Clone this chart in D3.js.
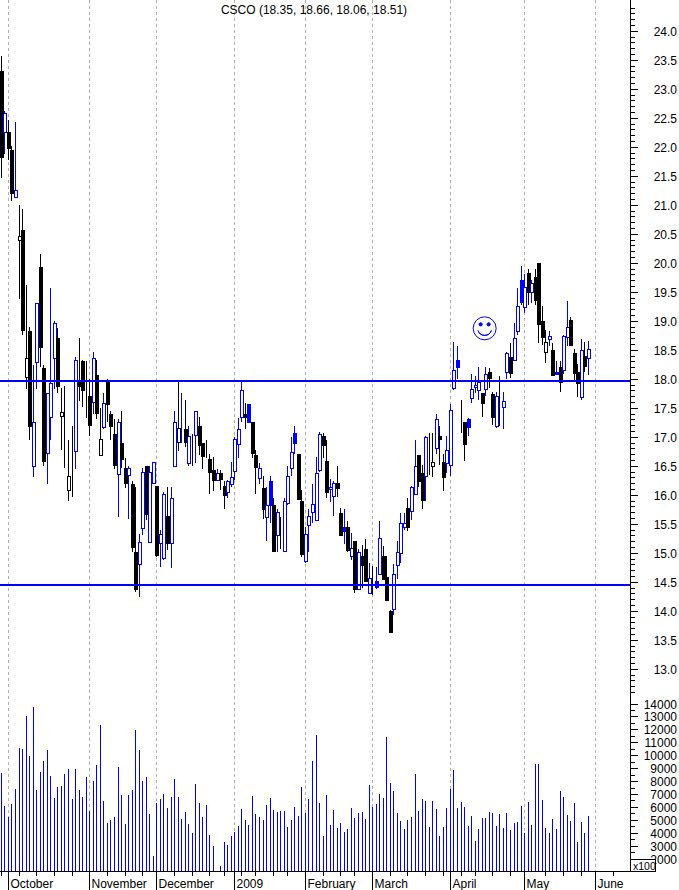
<!DOCTYPE html>
<html><head><meta charset="utf-8">
<script src="https://cdn.jsdelivr.net/npm/d3@7/dist/d3.min.js"></script>
<style>html,body{margin:0;padding:0;background:#fff}svg{display:block}text{font-family:"Liberation Sans",Arial,sans-serif;fill:#000}</style>
</head><body><div id="chart"></div>
<script>
const titleText = "CSCO (18.35, 18.66, 18.06, 18.51)";
const highs = [
23.56,22.61,22.47,22.01,22.42,20.99,20.92,19.61,18.90,18.23,
19.30,20.16,18.23,17.76,19.56,19.00,18.88,17.85,17.88,16.94,
17.19,18.37,18.70,18.33,18.30,17.99,18.47,18.32,17.49,17.75,
17.99,17.44,17.30,17.31,17.44,16.64,16.49,16.23,16.14,15.32,
16.47,16.49,16.49,16.56,16.16,15.40,16.04,16.13,16.13,17.45,
17.94,17.76,17.63,17.19,17.04,17.45,17.35,16.89,16.95,16.71,
16.66,16.44,16.42,16.23,16.26,16.56,16.99,17.32,17.97,17.59,
17.57,17.25,16.78,16.54,16.32,16.13,16.32,15.94,15.76,15.61,
15.94,16.49,16.99,17.19,16.71,16.09,15.45,15.76,16.18,16.66,
17.09,17.06,16.94,16.28,16.23,16.49,15.78,15.75,15.54,15.35,
15.21,15.06,15.14,15.23,14.83,14.78,14.75,15.54,15.11,14.94,
14.02,14.80,15.21,15.69,15.69,15.95,16.16,16.95,16.68,16.52,
17.01,17.06,17.06,17.40,17.18,16.70,17.02,17.56,18.63,18.56,
17.64,17.26,17.33,18.09,18.04,18.20,17.76,18.20,18.18,17.78,
17.78,18.04,17.78,18.47,18.61,18.97,19.56,19.94,19.80,19.89,
19.71,19.89,20.00,19.25,18.85,18.83,18.61,18.30,18.30,18.76,
19.35,19.06,18.52,18.25,18.68,18.63,18.66];
const lows = [
21.47,21.87,21.78,21.06,21.14,19.37,18.76,17.82,16.95,16.30,
17.82,18.20,16.50,16.19,16.94,17.83,17.76,16.78,16.47,15.90,
15.97,16.45,17.61,17.51,17.33,17.01,17.39,17.30,16.68,17.14,
17.26,16.95,16.44,15.61,16.47,16.11,15.59,15.01,14.33,14.23,
15.30,15.57,15.18,16.18,14.92,14.76,14.88,15.04,14.73,16.49,
16.76,16.89,16.83,16.50,16.50,16.54,16.68,16.44,16.64,16.01,
16.06,16.23,16.09,15.75,15.94,16.14,16.25,16.64,17.26,17.13,
17.25,16.63,16.02,16.18,15.59,15.20,15.51,15.02,15.02,15.06,
15.01,15.83,16.32,16.70,15.92,14.92,14.83,15.02,15.52,15.54,
16.40,16.64,15.94,15.87,15.64,15.97,15.30,15.16,15.02,14.88,
14.31,14.38,14.40,14.49,14.30,14.28,14.37,14.63,14.54,14.20,
13.63,13.92,14.54,14.83,15.40,15.37,15.57,16.02,16.14,15.75,
15.90,16.35,16.30,16.70,16.52,16.07,16.37,16.32,17.80,17.99,
17.07,16.59,17.01,17.59,17.76,17.63,17.35,17.70,17.85,17.21,
17.16,17.18,17.14,17.99,18.02,18.30,18.75,19.28,19.14,19.28,
19.30,19.28,18.61,18.59,18.28,18.56,18.04,18.06,17.78,18.09,
18.56,18.57,17.95,17.68,17.63,18.12,18.06];
const opens = [
23.30,22.26,22.25,21.95,21.14,20.39,20.57,18.02,18.83,16.49,
18.28,19.92,18.18,16.73,17.33,18.37,18.70,17.35,17.25,16.09,
16.11,16.76,17.95,18.30,17.80,17.71,17.59,18.06,16.70,17.18,
17.95,17.39,17.04,16.37,16.90,16.47,16.35,16.18,15.01,14.80,
15.44,16.49,15.20,16.19,16.16,15.18,14.92,15.64,15.18,16.50,
16.92,17.32,17.14,16.54,16.87,17.02,17.18,16.89,16.66,16.61,
16.42,16.25,16.37,16.16,16.04,16.18,16.42,16.87,17.33,17.39,
17.56,17.25,16.68,16.30,16.11,15.63,16.23,15.82,15.32,15.40,
15.04,15.85,16.45,17.07,16.71,15.90,14.85,15.49,15.71,15.56,
16.42,17.01,16.59,16.09,15.99,16.20,15.68,15.45,15.45,14.95,
15.21,14.38,14.94,15.06,14.31,14.33,14.51,14.64,14.95,14.59,
14.00,14.04,14.80,15.01,15.45,15.78,15.73,16.02,16.68,16.37,
16.32,16.70,16.50,16.81,17.01,16.57,16.56,16.52,17.85,18.32,
17.56,17.25,17.30,17.68,17.87,17.80,17.76,17.83,18.11,17.73,
17.19,17.47,17.51,18.11,18.38,18.32,18.83,19.70,19.25,19.83,
19.50,19.76,20.00,19.00,18.45,18.68,18.49,18.11,18.21,18.14,
18.73,19.02,18.45,18.11,17.68,18.40,18.35];
const closes = [
21.82,22.59,21.97,21.21,21.26,20.46,18.84,18.35,17.19,17.25,
19.30,18.54,16.57,17.76,17.92,18.97,17.87,17.42,17.25,16.33,
16.11,18.33,17.88,17.80,17.80,17.21,18.35,17.40,16.97,17.59,
17.57,17.19,16.50,17.26,16.62,16.21,16.47,15.09,14.37,15.18,
16.40,15.66,16.40,16.56,14.97,15.33,16.02,15.18,15.95,17.26,
17.16,17.32,16.92,17.01,16.87,17.44,16.85,16.66,16.66,16.39,
16.25,16.37,16.26,16.01,16.23,16.30,16.97,17.13,17.80,17.33,
17.25,16.71,16.47,16.47,15.75,15.83,15.82,15.02,15.71,15.40,
15.90,16.32,16.73,16.89,15.94,14.99,15.32,15.64,15.85,16.37,
17.04,16.85,16.06,16.13,16.21,16.11,15.30,15.38,15.06,15.09,
14.38,15.01,14.78,14.51,14.57,14.33,14.40,15.26,14.56,14.20,
13.63,14.64,15.02,15.52,15.52,15.45,16.14,16.50,16.23,15.90,
16.99,16.70,16.57,17.31,16.95,16.32,16.78,17.47,18.16,18.20,
17.56,16.87,17.16,17.83,17.90,17.94,17.59,18.09,18.01,17.33,
17.70,17.47,17.61,18.44,18.11,18.70,19.26,19.32,19.59,19.50,
19.66,19.37,18.95,18.73,18.63,18.73,18.06,18.07,17.95,18.73,
18.90,18.59,18.11,17.92,18.49,18.23,18.51];
const blueDays = [1,4,9,10,13,14,15,21,26,29,33,36,39,40,42,43,45,46,48,49,51,53,55,61,64,65,66,67,68,70,73,75,76,78,80,81,82,83,86,87,88,89,90,93,94,97,99,101,104,106,107,111,112,113,114,116,117,120,123,126,127,128,129,132,133,134,135,137,140,142,143,145,146,147,148,150,155,157,159,160,164,166];
const volumes = [
8613,6063,5240,6218,7377,10545,10468,13018,9927,13714,
7300,8690,9540,10390,8381,6681,7531,7609,8536,8922,
6604,8922,7300,6759,8304,5676,7995,9231,12323,6450,
4749,4981,5213,9077,6913,4672,6913,7300,11936,10390,
7995,8304,5445,2199,6295,6604,6990,5908,6759,8150,
6759,5058,5599,4672,3976,7763,6295,5213,6140,3822,
2972,900,1426,3281,3049,3745,4054,4517,5831,4981,
4595,6836,5445,5213,4981,6140,6681,5754,5599,5676,
5676,4440,4981,5986,5290,7531,5522,6604,9540,11550,
6295,3745,6913,4595,5754,4363,4749,4054,4286,5908,
5136,5522,5599,5058,7686,5986,6218,6990,6681,11395,
7840,7222,5522,4904,4286,4981,5213,8536,5676,6604,
6450,4440,6450,5831,3745,4440,5908,7377,8845,5908,
6372,5986,4517,5290,3358,4286,5136,5136,5599,5522,
4517,5445,4363,5522,4209,4749,4827,6063,3976,6372,
4595,9309,9309,6527,4363,3976,5058,4286,7222,6759,
5368,4904,6295,3281,4827,3976,5290];
const monthLabels = ["October","November","December","2009","February","March","April","May","June"];
const monthDays = [2,25,44,66,86,105,127,148,168];
const weekDays = [0,5,10,15,20,30,35,40,49,54,59,63,68,72,77,81,91,96,100,110,115,120,125,130,134,139,144,154,159,164,173];
const priceMajor = [24,23.5,23,22.5,22,21.5,21,20.5,20,19.5,19,18.5,18,17.5,17,16.5,16,15.5,15,14.5,14,13.5,13];
const volumeMajor = [14000,13000,12000,11000,10000,9000,8000,7000,6000,5000,4000,3000,2000];
const levels = [17.96,14.44];
const smileyAt = {day:136.4, price:18.87};

const W=679,H=890, BLUE="#0000ff";
const svg=d3.select("#chart").append("svg").attr("width",W).attr("height",H).attr("viewBox",`0 0 ${W} ${H}`);
const x=d3.scaleLinear().domain([0,166]).range([1.33,588.33]);
const px=i=>Math.floor(x(i))+0.5;
const y=d3.scaleLinear().domain([24,13]).range([30.8,668.8]);
const yv=d3.scaleLinear().domain([1000,14000]).range([871.5,703.5]);
const axisX=630.5, baseY=871.5;

svg.append("g").selectAll("line").data(monthDays).join("line")
  .attr("x1",px).attr("x2",px).attr("y1",0).attr("y2",baseY)
  .attr("stroke","#b0b0b0").attr("stroke-dasharray","3,3").attr("shape-rendering","crispEdges");

svg.append("g").selectAll("line").data(volumes).join("line")
  .attr("x1",(d,i)=>px(i)).attr("x2",(d,i)=>px(i))
  .attr("y1",baseY).attr("y2",d=>d<1000?baseY:yv(d))
  .attr("stroke",BLUE).attr("stroke-width",1).attr("shape-rendering","crispEdges");

const candles=svg.append("g").selectAll("g").data(d3.range(highs.length)).join("g");
const col=i=>blueDays.includes(i)?BLUE:"#000";
candles.append("line").attr("x1",px).attr("x2",px).attr("y1",i=>y(highs[i])).attr("y2",i=>y(lows[i]))
  .attr("stroke",col).attr("shape-rendering","crispEdges");
candles.append("rect")
  .attr("x",i=>px(i)-1.5)
  .attr("width",3)
  .attr("y",i=>Math.round(y(Math.max(opens[i],closes[i])))+0.5)
  .attr("height",i=>Math.max(opens[i]===closes[i]?0:1,Math.round(Math.abs(y(opens[i])-y(closes[i])))))
  .attr("fill",i=>closes[i]>opens[i]?"#fff":col(i))
  .attr("stroke",col).attr("stroke-width",1).attr("shape-rendering","crispEdges");

svg.append("g").selectAll("line").data(levels).join("line")
  .attr("x1",0).attr("x2",axisX).attr("y1",y).attr("y2",y)
  .attr("stroke",BLUE).attr("stroke-width",2).attr("shape-rendering","crispEdges");

const ax=svg.append("g").attr("stroke","#000").attr("stroke-width",1).attr("shape-rendering","crispEdges");
ax.append("line").attr("x1",axisX).attr("x2",axisX).attr("y1",0).attr("y2",baseY);
ax.append("line").attr("x1",0).attr("x2",axisX).attr("y1",baseY).attr("y2",baseY);
const priceTicks=d3.range(126,245).map(d=>d/10);
ax.selectAll(".p").data(priceTicks).join("line").attr("class","p")
  .attr("x1",axisX).attr("x2",d=>Number.isInteger(Math.round(d*10)/5)?638:635)
  .attr("y1",d=>Math.round(y(d))+0.5).attr("y2",d=>Math.round(y(d))+0.5);
const volTicks=d3.range(1500,14001,500);
ax.selectAll(".v").data(volTicks).join("line").attr("class","v")
  .attr("x1",axisX).attr("x2",d=>d%1000===0?638:635)
  .attr("y1",d=>Math.round(yv(d))+0.5).attr("y2",d=>Math.round(yv(d))+0.5);
ax.selectAll(".m").data(monthDays).join("line").attr("class","m")
  .attr("x1",px).attr("x2",px).attr("y1",baseY).attr("y2",890);
ax.selectAll(".w").data(weekDays).join("line").attr("class","w")
  .attr("x1",px).attr("x2",px).attr("y1",baseY).attr("y2",876);

const tg=svg.append("g").attr("font-size",12);
tg.selectAll(".pl").data(priceMajor).join("text").attr("class","pl")
  .attr("x",677).attr("text-anchor","end").attr("y",d=>y(d)+5).text(d=>d.toFixed(1));
tg.selectAll(".vl").data(volumeMajor).join("text").attr("class","vl")
  .attr("x",677).attr("text-anchor","end").attr("y",d=>yv(d)+5).text(d=>d);
tg.selectAll(".ml").data(monthLabels).join("text").attr("class","ml")
  .attr("x",(d,i)=>px(monthDays[i])+2).attr("y",888).text(d=>d);
tg.append("text").attr("x",314).attr("y",14).attr("text-anchor","middle").attr("font-size",12).text(titleText);

svg.append("rect").attr("x",630.5).attr("y",859.5).attr("width",25).attr("height",12)
  .attr("fill","#fff").attr("stroke","#000").attr("shape-rendering","crispEdges");
svg.append("text").attr("x",633).attr("y",869.5).attr("font-size",10.5).text("x100");

const sm=svg.append("g").attr("transform",`translate(${x(smileyAt.day)+1},${y(smileyAt.price)})`)
  .attr("fill","none").attr("stroke",BLUE);
sm.append("circle").attr("r",11.5);
sm.selectAll(".e").data([-4,4]).join("circle").attr("class","e").attr("cx",d=>d).attr("cy",-4).attr("r",1.6).attr("fill",BLUE);
sm.append("path").attr("d",d3.arc()({innerRadius:7,outerRadius:7,startAngle:Math.PI*0.6,endAngle:Math.PI*1.4}));
</script>
</body></html>
